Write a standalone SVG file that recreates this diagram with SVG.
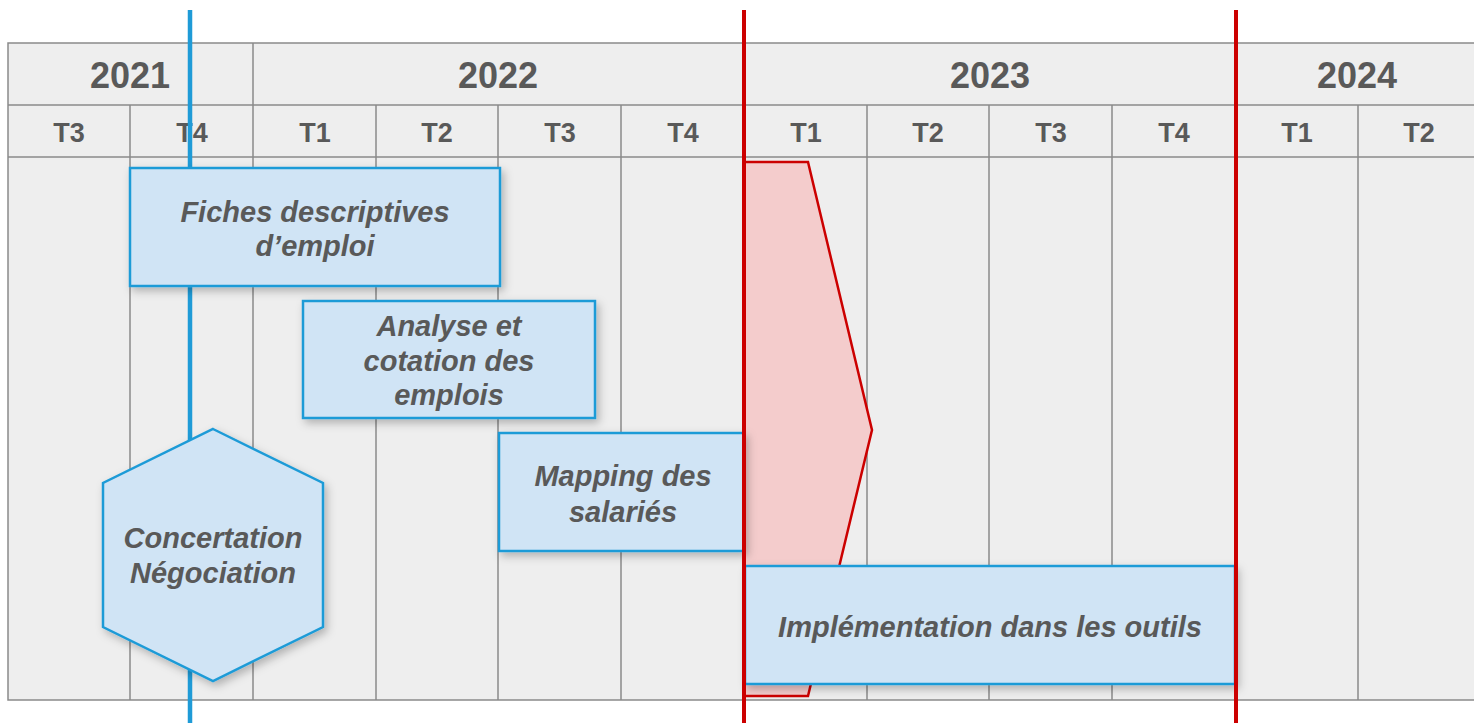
<svg xmlns="http://www.w3.org/2000/svg" width="1474" height="723" viewBox="0 0 1474 723">
<defs>
<style>
.cell{fill:#eeeeee;stroke:#8a8a8a;stroke-width:1.5}
.grid{stroke:#8a8a8a;stroke-width:1.5;fill:none}
.yr{font-family:"Liberation Sans",Arial,sans-serif;font-weight:bold;font-size:36px;fill:#595959;text-anchor:middle}
.q{font-family:"Liberation Sans",Arial,sans-serif;font-weight:bold;font-size:27px;fill:#595959;text-anchor:middle}
.box{fill:#d0e4f5;stroke:#1f9bd7;stroke-width:2.5;filter:url(#sh)}
.lbl{font-family:"Liberation Sans",Arial,sans-serif;font-weight:bold;font-style:italic;font-size:29px;fill:#595959;text-anchor:middle}
.red{stroke:#cc0000;stroke-width:4;fill:none}
</style>
<filter id="sh" x="-10%" y="-10%" width="130%" height="130%">
<feDropShadow dx="3" dy="4" stdDeviation="4" flood-color="#000" flood-opacity="0.25"/>
</filter>
</defs>
<rect width="1474" height="723" fill="#ffffff"/>
<g id="grid">
<rect class="cell" x="8" y="43" width="1480" height="657"/>
<line class="grid" x1="8" y1="105" x2="1474" y2="105"/>
<line class="grid" x1="8" y1="157" x2="1474" y2="157"/>
<line class="grid" x1="253" y1="43" x2="253" y2="700"/>
<line class="grid" x1="744" y1="43" x2="744" y2="700"/>
<line class="grid" x1="1236" y1="43" x2="1236" y2="700"/>
<line class="grid" x1="130" y1="105" x2="130" y2="700"/>
<line class="grid" x1="376" y1="105" x2="376" y2="700"/>
<line class="grid" x1="498" y1="105" x2="498" y2="700"/>
<line class="grid" x1="621" y1="105" x2="621" y2="700"/>
<line class="grid" x1="867" y1="105" x2="867" y2="700"/>
<line class="grid" x1="989" y1="105" x2="989" y2="700"/>
<line class="grid" x1="1112" y1="105" x2="1112" y2="700"/>
<line class="grid" x1="1358" y1="105" x2="1358" y2="700"/>
<text class="yr" x="130" y="88">2021</text>
<text class="yr" x="498" y="88">2022</text>
<text class="yr" x="990" y="88">2023</text>
<text class="yr" x="1357" y="88">2024</text>
<text class="q" x="69" y="142">T3</text>
<text class="q" x="192" y="142">T4</text>
<text class="q" x="315" y="142">T1</text>
<text class="q" x="437" y="142">T2</text>
<text class="q" x="560" y="142">T3</text>
<text class="q" x="683" y="142">T4</text>
<text class="q" x="806" y="142">T1</text>
<text class="q" x="928" y="142">T2</text>
<text class="q" x="1051" y="142">T3</text>
<text class="q" x="1174" y="142">T4</text>
<text class="q" x="1297" y="142">T1</text>
<text class="q" x="1419" y="142">T2</text>
</g>
<g id="connectors">
<line x1="190" y1="10" x2="190" y2="723" stroke="#1f9bd7" stroke-width="4.5"/>
</g>
<g id="phase-2023">
<polygon points="744,162 808,162 872,430 808,696 744,696" fill="#f4cccc" stroke="#cc0000" stroke-width="2.5"/>
</g>
<g id="fiches">
<rect class="box" x="130" y="168" width="370" height="118"/>
<text class="lbl" x="315" y="222">Fiches descriptives</text>
<text class="lbl" x="315" y="256">d’emploi</text>
</g>
<g id="analyse">
<rect class="box" x="303" y="301" width="292" height="117"/>
<text class="lbl" x="449" y="336">Analyse et</text>
<text class="lbl" x="449" y="371">cotation des</text>
<text class="lbl" x="449" y="405">emplois</text>
</g>
<g id="mapping">
<rect class="box" x="499" y="433" width="245" height="118"/>
<text class="lbl" x="623" y="486">Mapping des</text>
<text class="lbl" x="623" y="522">salariés</text>
</g>
<g id="concertation">
<polygon class="box" points="213,429 323,483 323,627 213,681 103,627 103,483"/>
<text class="lbl" x="213" y="548">Concertation</text>
<text class="lbl" x="213" y="583">Négociation</text>
</g>
<g id="implementation">
<rect class="box" x="745" y="566" width="490" height="118"/>
<text class="lbl" x="990" y="637">Implémentation dans les outils</text>
</g>
<g id="milestones">
<line class="red" x1="744" y1="10" x2="744" y2="723"/>
<line class="red" x1="1236" y1="10" x2="1236" y2="723"/>
</g>
</svg>
